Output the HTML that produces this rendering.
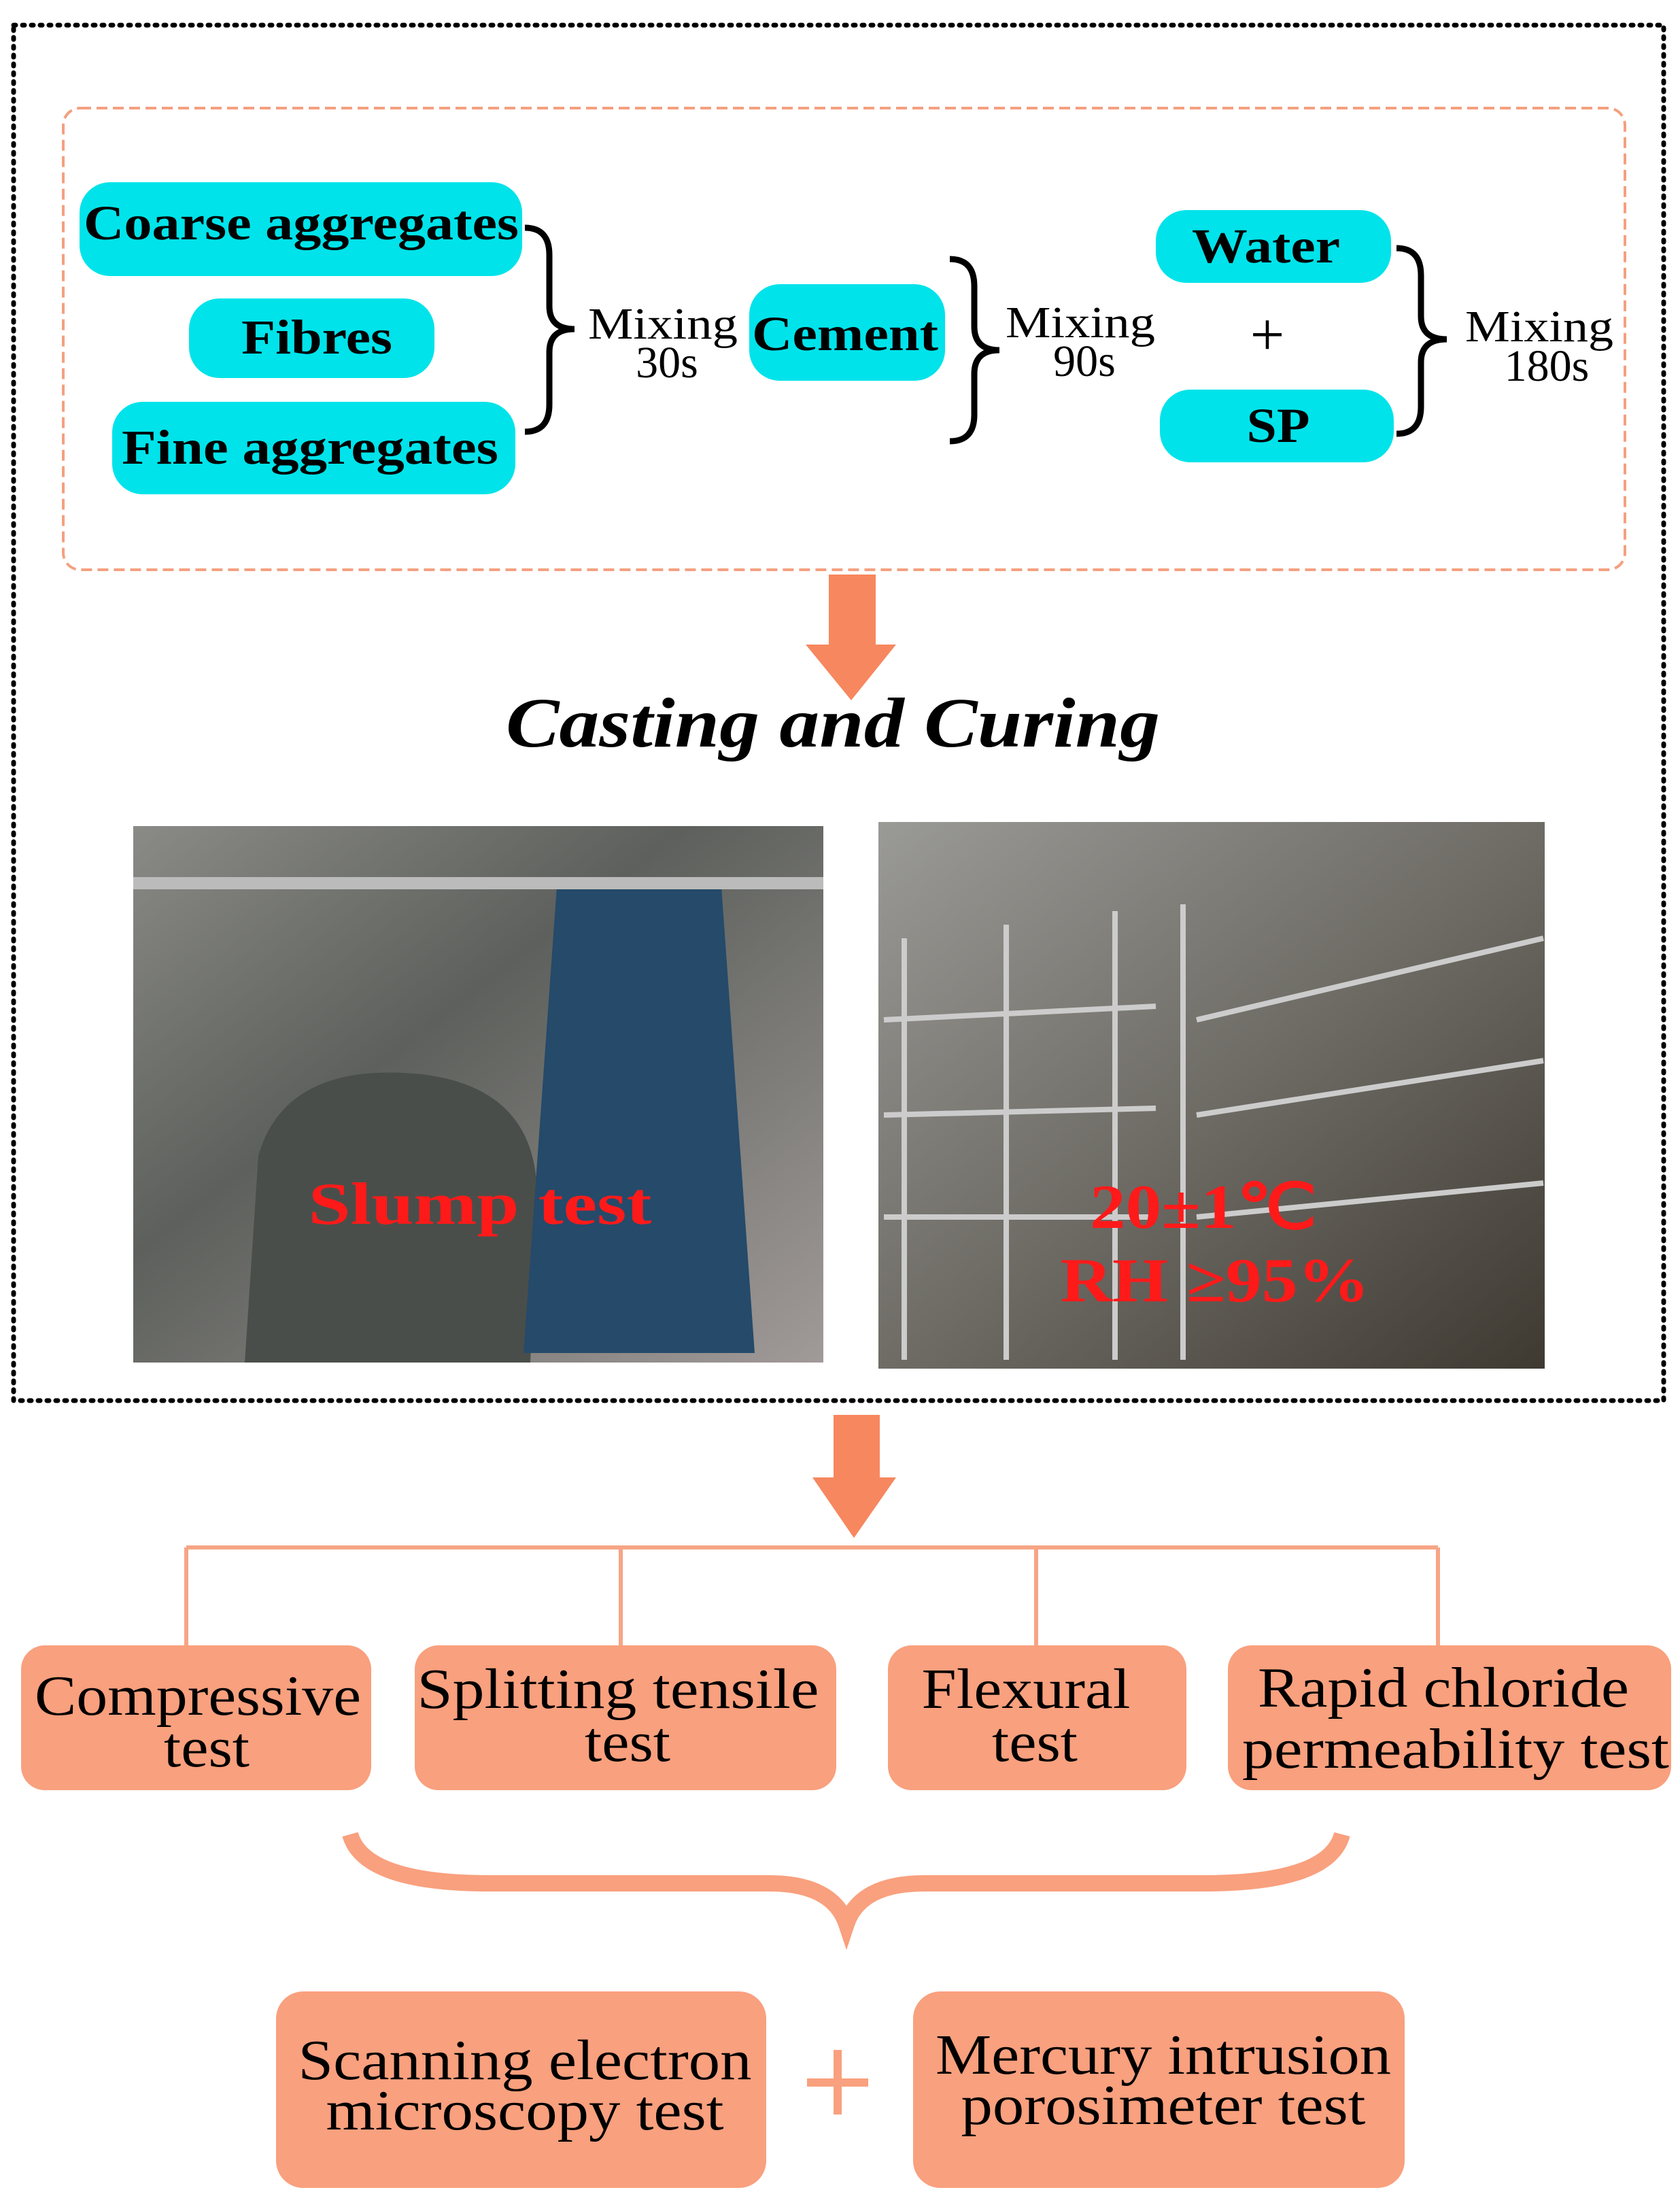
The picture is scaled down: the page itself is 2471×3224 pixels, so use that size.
<!DOCTYPE html>
<html><head><meta charset="utf-8"><style>
html,body{margin:0;padding:0;background:#fff;}
svg{display:block}
</style></head><body>
<svg width="2471" height="3224" viewBox="0 0 2471 3224" xmlns="http://www.w3.org/2000/svg">
<defs>
<linearGradient id="p1" x1="0" y1="0" x2="1" y2="1">
<stop offset="0" stop-color="#8a8a86"/><stop offset="0.4" stop-color="#5d605c"/><stop offset="1" stop-color="#a09a98"/>
</linearGradient>
<linearGradient id="p2" x1="0" y1="0" x2="1" y2="1">
<stop offset="0" stop-color="#9a9a96"/><stop offset="0.5" stop-color="#6f6c66"/><stop offset="1" stop-color="#3e3a32"/>
</linearGradient>
</defs>
<rect x="20" y="37" width="2427" height="2023" fill="none" stroke="#000" stroke-width="7" stroke-dasharray="3 10" stroke-linecap="round"/>
<rect x="93" y="159" width="2297" height="679" rx="25" fill="none" stroke="#f4a080" stroke-width="4" stroke-dasharray="16 8"/>
<g font-family="Liberation Serif, serif" font-weight="bold" font-size="72" text-anchor="middle" lengthAdjust="spacingAndGlyphs">
<rect x="117" y="268" width="651" height="138" rx="45" fill="#00e3ea"/>
<text x="443" y="352" textLength="640" lengthAdjust="spacingAndGlyphs">Coarse aggregates</text>
<rect x="278" y="439" width="361" height="117" rx="45" fill="#00e3ea"/>
<text x="466" y="520" textLength="222" lengthAdjust="spacingAndGlyphs">Fibres</text>
<rect x="165" y="591" width="593" height="136" rx="45" fill="#00e3ea"/>
<text x="456" y="682" textLength="554" lengthAdjust="spacingAndGlyphs">Fine aggregates</text>
<rect x="1102" y="418" width="288" height="142" rx="45" fill="#00e3ea"/>
<text x="1243" y="515" textLength="274" lengthAdjust="spacingAndGlyphs">Cement</text>
<rect x="1700" y="309" width="346" height="107" rx="45" fill="#00e3ea"/>
<text x="1862" y="386" textLength="218" lengthAdjust="spacingAndGlyphs">Water</text>
<rect x="1706" y="573" width="344" height="107" rx="45" fill="#00e3ea"/>
<text x="1880" y="650" textLength="93" lengthAdjust="spacingAndGlyphs">SP</text>
</g>
<g fill="none" stroke="#000" stroke-width="9">
<path d="M772,335 Q808,335 808,375 L808,450 Q808,484 845,484 Q808,484 808,518 L808,595 Q808,635 772,635"/>
<path d="M1397,381 Q1433,381 1433,421 L1433,480 Q1433,515 1470,515 Q1433,515 1433,550 L1433,610 Q1433,649 1397,649"/>
<path d="M2054,365 Q2090,365 2090,405 L2090,465 Q2090,499 2128,499 Q2090,499 2090,533 L2090,598 Q2090,638 2054,638"/>
</g>
<g font-family="Liberation Serif, serif" font-size="66" text-anchor="middle">
<text x="975" y="498" textLength="220" lengthAdjust="spacingAndGlyphs">Mixing</text><text x="981" y="555">30s</text>
<text x="1589" y="496" textLength="220" lengthAdjust="spacingAndGlyphs">Mixing</text><text x="1595" y="553">90s</text>
<text x="2264" y="502" textLength="218" lengthAdjust="spacingAndGlyphs">Mixing</text><text x="2275" y="560">180s</text>
<text x="1864" y="522" font-size="90">+</text>
</g>
<rect x="1219" y="845" width="69" height="105" fill="#f7875f"/>
<polygon points="1185,948 1318,948 1252,1030" fill="#f7875f"/>
<text x="1225" y="1098" font-family="Liberation Serif, serif" font-style="italic" font-weight="bold" font-size="104" text-anchor="middle" textLength="962" lengthAdjust="spacingAndGlyphs">Casting and Curing</text>
<rect x="196" y="1215" width="1015" height="789" fill="url(#p1)"/>
<path d="M380,1700 Q420,1560 620,1580 Q790,1600 790,1760 L780,2004 L360,2004 Z" fill="#4a4e4a"/>
<path d="M820,1290 L1060,1290 L1110,1990 L770,1990 Z" fill="#254a6a"/>
<rect x="196" y="1290" width="1015" height="18" fill="#bbb"/>
<text x="706" y="1800" font-family="Liberation Serif, serif" font-weight="bold" font-size="88" fill="#ff1a1a" text-anchor="middle" textLength="505" lengthAdjust="spacingAndGlyphs">Slump test</text>
<rect x="1292" y="1209" width="980" height="804" fill="url(#p2)"/>
<g stroke="#ccc" stroke-width="8">
<line x1="1330" y1="1380" x2="1330" y2="2000"/><line x1="1480" y1="1360" x2="1480" y2="2000"/><line x1="1640" y1="1340" x2="1640" y2="2000"/><line x1="1740" y1="1330" x2="1740" y2="2000"/>
<line x1="1300" y1="1500" x2="1700" y2="1480"/><line x1="1300" y1="1640" x2="1700" y2="1630"/><line x1="1300" y1="1790" x2="1700" y2="1790"/>
<line x1="1760" y1="1500" x2="2270" y2="1380"/><line x1="1760" y1="1640" x2="2270" y2="1560"/><line x1="1760" y1="1790" x2="2270" y2="1740"/>
</g>
<g font-family="Liberation Serif, serif" font-weight="bold" font-size="92" fill="#ff1a1a" text-anchor="middle">
<text x="1770" y="1806" textLength="334" lengthAdjust="spacingAndGlyphs">20±1℃</text><text x="1787" y="1914" textLength="455" lengthAdjust="spacingAndGlyphs">RH ≥95%</text>
</g>
<rect x="1226" y="2081" width="68" height="94" fill="#f7875f"/>
<polygon points="1195,2173 1318,2173 1256,2262" fill="#f7875f"/>
<g stroke="#f6a585" stroke-width="6" fill="none">
<line x1="274" y1="2276" x2="2115" y2="2276"/>
<line x1="274" y1="2276" x2="274" y2="2420"/><line x1="913" y1="2276" x2="913" y2="2420"/>
<line x1="1524" y1="2276" x2="1524" y2="2420"/><line x1="2115" y1="2276" x2="2115" y2="2420"/>
</g>
<g fill="#f9a07e">
<rect x="31" y="2420" width="515" height="213" rx="35"/>
<rect x="610" y="2420" width="620" height="213" rx="35"/>
<rect x="1306" y="2420" width="439" height="213" rx="35"/>
<rect x="1806" y="2420" width="652" height="213" rx="35"/>
<rect x="406" y="2929" width="721" height="289" rx="40"/>
<rect x="1343" y="2929" width="723" height="289" rx="40"/>
</g>
<path d="M515,2698 Q535,2770 720,2770 L1130,2770 Q1225,2770 1245,2830 Q1265,2770 1360,2770 L1770,2770 Q1955,2770 1974,2698" fill="none" stroke="#f9a07e" stroke-width="24"/>
<g font-family="Liberation Serif, serif" font-size="84" text-anchor="middle">
<text x="291" y="2522" textLength="480" lengthAdjust="spacingAndGlyphs">Compressive</text><text x="304" y="2598" textLength="126" lengthAdjust="spacingAndGlyphs">test</text>
<text x="909" y="2512" textLength="591" lengthAdjust="spacingAndGlyphs">Splitting tensile</text><text x="923" y="2590" textLength="126" lengthAdjust="spacingAndGlyphs">test</text>
<text x="1509" y="2512" textLength="307" lengthAdjust="spacingAndGlyphs">Flexural</text><text x="1522" y="2590" textLength="126" lengthAdjust="spacingAndGlyphs">test</text>
<text x="2123" y="2510" textLength="546" lengthAdjust="spacingAndGlyphs">Rapid chloride</text><text x="2141" y="2600" textLength="628" lengthAdjust="spacingAndGlyphs">permeability test</text>
<text x="772" y="3058" textLength="667" lengthAdjust="spacingAndGlyphs">Scanning electron</text><text x="772" y="3132" textLength="585" lengthAdjust="spacingAndGlyphs">microscopy test</text>
<text x="1711" y="3050" textLength="670" lengthAdjust="spacingAndGlyphs">Mercury intrusion</text><text x="1711" y="3124" textLength="595" lengthAdjust="spacingAndGlyphs">porosimeter test</text>
</g>
<g stroke="#f9a07e" stroke-width="12">
<line x1="1232" y1="3015" x2="1232" y2="3110"/><line x1="1187" y1="3063" x2="1277" y2="3063"/>
</g>
</svg>
</body></html>
